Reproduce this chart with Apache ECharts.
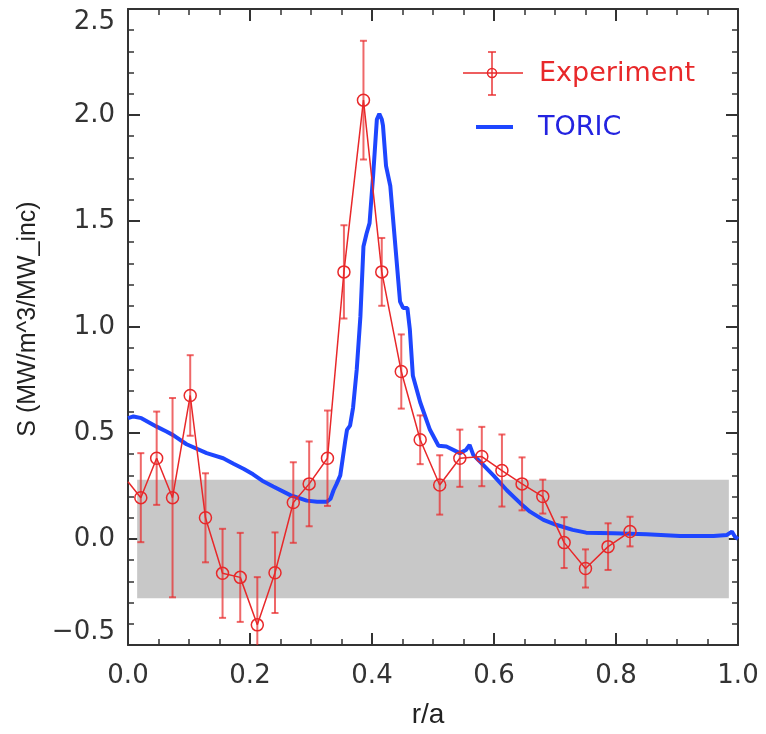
<!DOCTYPE html>
<html>
<head>
<meta charset="utf-8">
<script src="https://cdn.jsdelivr.net/npm/echarts@6/dist/echarts.min.js"></script>
<style>
html, body { margin: 0; padding: 0; background: #fff; }
#chart { width: 766px; height: 734px; }
</style>
</head>
<body>
<div id="chart"></div>
<script>
// measured points (r/a, S) + error bars
var expR = [0.0, 0.021, 0.047, 0.073, 0.102, 0.127, 0.155, 0.184, 0.212, 0.241, 0.271, 0.297, 0.327,
  0.354, 0.386, 0.416, 0.448, 0.479, 0.511, 0.544, 0.580, 0.613, 0.646, 0.680, 0.715, 0.750, 0.787, 0.823];
var expS = [0.27, 0.195, 0.381, 0.195, 0.677, 0.10, -0.162, -0.181, -0.405, -0.159, 0.172, 0.26, 0.381,
  1.26, 2.07, 1.26, 0.79, 0.468, 0.255, 0.381, 0.389, 0.323, 0.26, 0.20, -0.017, -0.139, -0.036, 0.035];
var expErr = [null, 0.21, 0.22, 0.47, 0.19, 0.21, 0.21, 0.21, 0.225, 0.19, 0.19, 0.20, 0.225,
  0.22, 0.28, 0.16, 0.175, 0.115, 0.14, 0.135, 0.14, 0.17, 0.125, 0.08, 0.12, 0.09, 0.11, 0.07];

// TORIC simulation curve
var toricR = [0.0, 0.009, 0.022, 0.047, 0.063, 0.074, 0.096, 0.129, 0.156, 0.173, 0.19, 0.205, 0.22,
  0.238, 0.266, 0.293, 0.31, 0.326, 0.332, 0.337, 0.342, 0.348, 0.352, 0.356, 0.359, 0.364, 0.369,
  0.375, 0.381, 0.386, 0.391, 0.396, 0.402, 0.408, 0.412, 0.416, 0.418, 0.423, 0.430, 0.446, 0.451,
  0.458, 0.462, 0.467, 0.479, 0.495, 0.509, 0.522, 0.544, 0.554, 0.560, 0.566, 0.577, 0.599, 0.621,
  0.643, 0.659, 0.681, 0.703, 0.729, 0.751, 0.796, 0.850, 0.905, 0.960, 0.982, 0.990, 0.995, 1.0];
var toricS = [0.57, 0.578, 0.57, 0.53, 0.507, 0.49, 0.447, 0.405, 0.381, 0.355, 0.33, 0.305, 0.275,
  0.248, 0.207, 0.181, 0.176, 0.176, 0.19, 0.23, 0.26, 0.30, 0.38, 0.46, 0.515, 0.535, 0.62,
  0.80, 1.05, 1.38, 1.44, 1.49, 1.72, 1.98, 2.005, 1.98, 1.95, 1.76, 1.665, 1.12, 1.09,
  1.09, 0.99, 0.77, 0.645, 0.515, 0.44, 0.436, 0.405, 0.42, 0.444, 0.397, 0.365, 0.30, 0.23,
  0.169, 0.129, 0.09, 0.066, 0.043, 0.03, 0.027, 0.022, 0.014, 0.014, 0.019, 0.035, 0.011, 0.0];

// gray uncertainty band
var bandR = [0.015, 0.985];
var bandS = [-0.28, 0.28];

var xTicks = [0, 1, 0.2];
var yTicks = [-0.5, 2.5, 0.5];

var red = '#e8282a';
var errRed = 'rgba(232,40,42,0.7)';
var blue = '#1e46ff';
var axisColor = '#333';

var chart = echarts.init(document.getElementById('chart'));

var expData = expR.map(function (r, i) {
  if (expErr[i] == null) return { value: [r, expS[i]], symbol: 'none' };
  return [r, expS[i]];
});
var errData = [];
expR.forEach(function (r, i) {
  if (expErr[i] != null) errData.push([r, expS[i] - expErr[i], expS[i] + expErr[i]]);
});
var toricData = toricR.map(function (r, i) { return [r, toricS[i]]; });

function renderErr(params, api) {
  var p1 = api.coord([api.value(0), api.value(1)]);
  var p2 = api.coord([api.value(0), api.value(2)]);
  var w = 3.5;
  var st = { stroke: errRed, lineWidth: 2 };
  return {
    type: 'group',
    children: [
      { type: 'line', shape: { x1: p1[0], y1: p1[1], x2: p2[0], y2: p2[1] }, style: st },
      { type: 'line', shape: { x1: p1[0] - w, y1: p1[1], x2: p1[0] + w, y2: p1[1] }, style: st },
      { type: 'line', shape: { x1: p2[0] - w, y1: p2[1], x2: p2[0] + w, y2: p2[1] }, style: st }
    ]
  };
}

function renderBand(params, api) {
  var a = api.coord([api.value(0), api.value(3)]);
  var b = api.coord([api.value(2), api.value(1)]);
  return {
    type: 'rect',
    shape: { x: a[0], y: a[1], width: b[0] - a[0], height: b[1] - a[1] },
    style: { fill: '#c8c8c8' }
  };
}

function axisX(pos, showLabel) {
  return {
    type: 'value', position: pos, min: xTicks[0], max: xTicks[1], interval: xTicks[2],
    axisLine: { show: true, onZero: false, lineStyle: { color: axisColor, width: 2 } },
    axisTick: { show: true, inside: true, length: 12, lineStyle: { color: axisColor, width: 2 } },
    minorTick: { show: true, splitNumber: 4, length: 6, lineStyle: { color: axisColor, width: 1.5 } },
    splitLine: { show: false },
    axisLabel: {
      show: showLabel, fontFamily: 'DejaVu Sans', fontSize: 26, color: axisColor, margin: 18,
      formatter: function (v) { return v.toFixed(1); }
    },
    name: showLabel ? 'r/a' : '', nameLocation: 'middle', nameGap: 56,
    nameTextStyle: { fontFamily: 'Liberation Sans', fontSize: 28, color: '#222', padding: [0, 10, 0, 0] }
  };
}

function axisY(pos, showLabel) {
  return {
    type: 'value', position: pos, min: yTicks[0], max: yTicks[1], interval: yTicks[2],
    axisLine: { show: true, onZero: false, lineStyle: { color: axisColor, width: 2 } },
    axisTick: { show: true, inside: true, length: 12, lineStyle: { color: axisColor, width: 2 } },
    minorTick: { show: true, splitNumber: 5, length: 6, lineStyle: { color: axisColor, width: 1.5 } },
    splitLine: { show: false },
    axisLabel: {
      show: showLabel, fontFamily: 'DejaVu Sans', fontSize: 26, color: axisColor, margin: 13,
      verticalAlignMinLabel: 'bottom', verticalAlignMaxLabel: 'top',
      formatter: function (v) { return v < 0 ? '\u2212' + Math.abs(v).toFixed(1) : v.toFixed(1); }
    },
    name: showLabel ? 'S (MW/m^3/MW_inc)' : '', nameLocation: 'middle', nameGap: 76,
    nameTextStyle: { fontFamily: 'Liberation Sans', fontSize: 25, color: '#222', padding: [0, 0, 0, 16] }
  };
}

var option = {
  animation: false,
  backgroundColor: '#fff',
  grid: { left: 128, right: 28, top: 9, bottom: 89, containLabel: false, outerBoundsMode: 'none' },
  xAxis: [axisX('bottom', true), axisX('top', false)],
  yAxis: [axisY('left', true), axisY('right', false)],
  graphic: [
    { type: 'line', shape: { x1: 463, y1: 73, x2: 523, y2: 73 }, style: { stroke: red, lineWidth: 1.5 } },
    { type: 'circle', shape: { cx: 492, cy: 73, r: 4.5 }, style: { stroke: red, fill: 'none', lineWidth: 1.5 } },
    { type: 'line', shape: { x1: 492, y1: 52, x2: 492, y2: 95 }, style: { stroke: errRed, lineWidth: 2 } },
    { type: 'line', shape: { x1: 488, y1: 52, x2: 496, y2: 52 }, style: { stroke: errRed, lineWidth: 2 } },
    { type: 'line', shape: { x1: 488, y1: 95, x2: 496, y2: 95 }, style: { stroke: errRed, lineWidth: 2 } },
    { type: 'text', x: 539, y: 74, style: { text: 'Experiment', fill: red, font: '27px "DejaVu Sans"', verticalAlign: 'middle' } },
    { type: 'line', shape: { x1: 476, y1: 127, x2: 513, y2: 127 }, style: { stroke: blue, lineWidth: 4 } },
    { type: 'text', x: 538, y: 128, style: { text: 'TORIC', fill: '#2323e0', font: '27px "DejaVu Sans"', verticalAlign: 'middle' } }
  ],
  series: [
    {
      type: 'custom', name: 'band', renderItem: renderBand, clip: true, z: 1, silent: true,
      data: [[bandR[0], bandS[0], bandR[1], bandS[1]]]
    },
    {
      type: 'line', name: 'TORIC', data: toricData, showSymbol: false, z: 3,
      lineStyle: { color: blue, width: 4 }, itemStyle: { color: blue }, emphasis: { disabled: true }
    },
    {
      type: 'line', name: 'Experiment', data: expData, z: 4,
      symbol: 'circle', symbolSize: 12,
      lineStyle: { color: red, width: 1.5 },
      itemStyle: { color: 'rgba(0,0,0,0)', borderColor: red, borderWidth: 1.5 },
      emphasis: { disabled: true }
    },
    {
      type: 'custom', name: 'err', renderItem: renderErr, clip: true, z: 5, silent: true,
      data: errData
    }
  ]
};

chart.setOption(option);
</script>
</body>
</html>
